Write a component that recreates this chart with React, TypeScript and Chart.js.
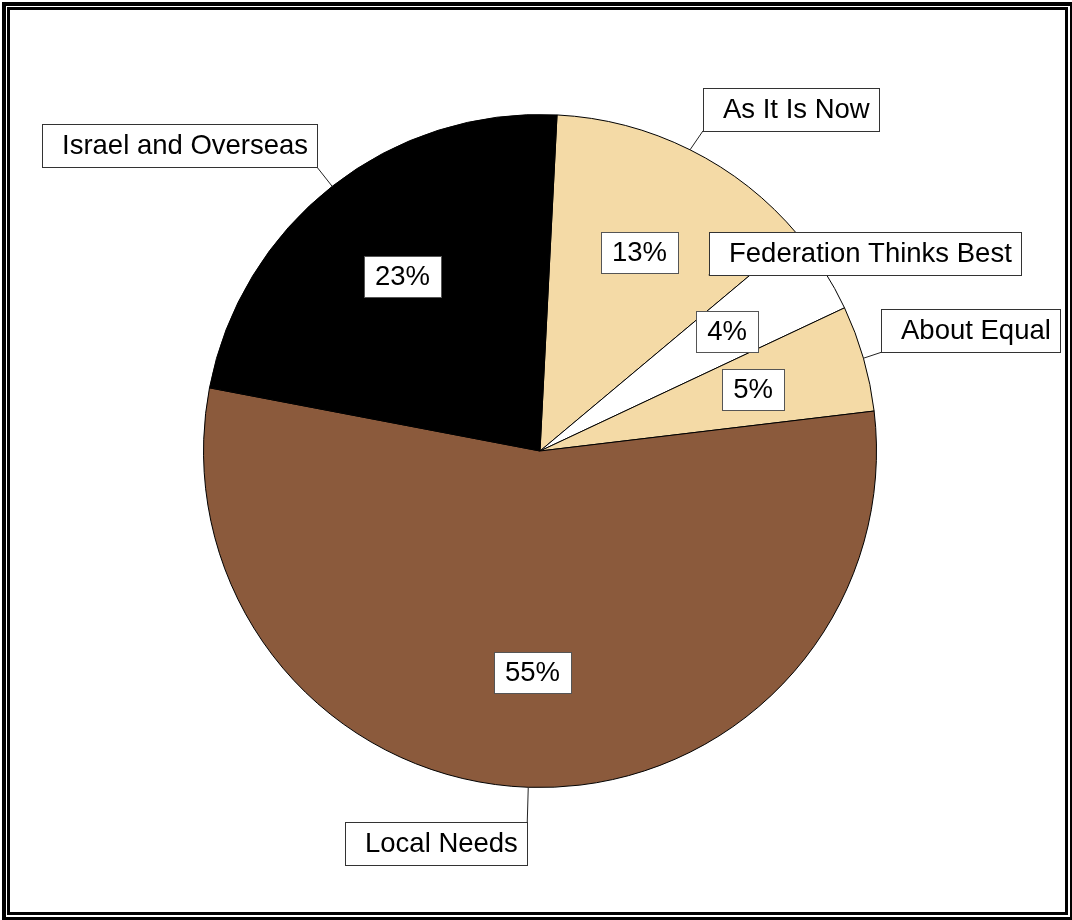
import React, { useEffect, useRef } from "react";
import { Chart, registerables } from "chart.js";

Chart.register(...registerables);

// ---- data ----
const categories = [
  "As It Is Now",
  "Federation Thinks Best",
  "About Equal",
  "Local Needs",
  "Israel and Overseas",
];
const shares = [13.1, 4.1, 5.1, 54.9, 22.8];
const percentLabels = ["13%", "4%", "5%", "55%", "23%"];

// ---- styles / layout ----
const sliceColors = ["#F4DAA6", "#FFFFFF", "#F4DAA6", "#8B5A3C", "#000000"];
const startAngleDeg = 2.9;
const FONT = '27.5px "Liberation Sans", Arial, sans-serif';
const PAD_LEFT = 20;
const PAD_RIGHT = 9;

// callout box: which corner attaches to the leader, offset from the arc anchor point
const calloutLayout = [
  { corner: "bl", dx: 13, dy: -19 },
  { corner: "bl", dx: -115, dy: 5 },
  { corner: "bl", dx: 18, dy: -6 },
  { corner: "tr", dx: -1, dy: 35 },
  { corner: "br", dx: -15, dy: -19 },
];

const framePlugin = {
  id: "frame",
  beforeDraw(chart: any) {
    const ctx = chart.ctx;
    ctx.save();
    ctx.fillStyle = "#FFFFFF";
    ctx.fillRect(0, 0, chart.width, chart.height);
    ctx.restore();
  },
  afterDraw(chart: any) {
    const ctx = chart.ctx;
    ctx.save();
    ctx.strokeStyle = "#000";
    ctx.lineWidth = 4;
    ctx.strokeRect(4, 4, 1068, 915);
    ctx.lineWidth = 3;
    ctx.strokeRect(8.5, 8.5, 1058, 905);
    ctx.restore();
  },
};

const labelPlugin = {
  id: "calloutLabels",
  afterDatasetsDraw(chart: any) {
    const ctx = chart.ctx;
    const meta = chart.getDatasetMeta(0);
    ctx.save();
    ctx.font = FONT;
    ctx.textBaseline = "middle";
    ctx.textAlign = "left";

    const geo = meta.data.map((arc: any) => {
      const p = arc.getProps(["x", "y", "startAngle", "endAngle", "outerRadius"], true);
      const mid = (p.startAngle + p.endAngle) / 2;
      return { ...p, mid };
    });

    // leader lines + outer boxes
    const boxes: any[] = [];
    geo.forEach((g: any, i: number) => {
      const ax = g.x + Math.cos(g.mid) * g.outerRadius;
      const ay = g.y + Math.sin(g.mid) * g.outerRadius;
      const lay = calloutLayout[i];
      const cx = ax + lay.dx;
      const cy = ay + lay.dy;
      const tw = ctx.measureText(categories[i]).width;
      const w = Math.round(tw + PAD_LEFT + PAD_RIGHT);
      const h = 43;
      let left = cx, top = cy;
      if (lay.corner === "bl") { left = cx; top = cy - h; }
      if (lay.corner === "br") { left = cx - w; top = cy - h; }
      if (lay.corner === "tr") { left = cx - w; top = cy; }
      if (lay.corner === "tl") { left = cx; top = cy; }
      boxes.push({ left: Math.round(left), top: Math.round(top), w, h, text: categories[i] });
      ctx.beginPath();
      ctx.strokeStyle = "#222";
      ctx.lineWidth = 1;
      ctx.moveTo(ax, ay);
      ctx.lineTo(cx, cy);
      ctx.stroke();
    });
    boxes.forEach((b) => {
      ctx.fillStyle = "#FFFFFF";
      ctx.fillRect(b.left, b.top, b.w, b.h);
      ctx.strokeStyle = "#333";
      ctx.lineWidth = 1;
      ctx.strokeRect(b.left + 0.5, b.top + 0.5, b.w, b.h);
      ctx.fillStyle = "#000";
      ctx.fillText(b.text, b.left + PAD_LEFT, b.top + b.h / 2 + 1);
    });

    // inner percentage boxes
    geo.forEach((g: any, i: number) => {
      const r = g.outerRadius * 0.66;
      const px = g.x + Math.cos(g.mid) * r;
      const py = g.y + Math.sin(g.mid) * r;
      const tw = ctx.measureText(percentLabels[i]).width;
      const w = Math.round(tw + 22);
      const h = 41;
      const left = Math.round(px - w / 2);
      const top = Math.round(py - h / 2);
      ctx.fillStyle = "#FFFFFF";
      ctx.fillRect(left, top, w, h);
      ctx.strokeStyle = "#555";
      ctx.lineWidth = 1;
      ctx.strokeRect(left + 0.5, top + 0.5, w, h);
      ctx.fillStyle = "#000";
      ctx.textAlign = "center";
      ctx.fillText(percentLabels[i], left + w / 2, top + h / 2 + 1);
      ctx.textAlign = "left";
    });
    ctx.restore();
  },
};

export default function App() {
  const ref = useRef<HTMLCanvasElement | null>(null);
  useEffect(() => {
    if (!ref.current) return;
    const chart = new Chart(ref.current, {
      type: "pie",
      data: {
        labels: categories,
        datasets: [
          {
            data: shares,
            backgroundColor: sliceColors,
            borderColor: "#000000",
            borderWidth: 1,
          },
        ],
      },
      options: {
        animation: false,
        responsive: false,
        rotation: startAngleDeg,
        layout: { padding: { top: 114, bottom: 132, left: 203, right: 195 } },
        plugins: {
          legend: { display: false },
          tooltip: { enabled: false },
          title: { display: false },
        },
      },
      plugins: [framePlugin, labelPlugin],
    } as any);
    return () => chart.destroy();
  }, []);
  return (
    <div style={{ position: "absolute", left: 0, top: 0, width: 1072, height: 920 }}>
      <canvas ref={ref} width={1072} height={920} style={{ display: "block" }} />
    </div>
  );
}
